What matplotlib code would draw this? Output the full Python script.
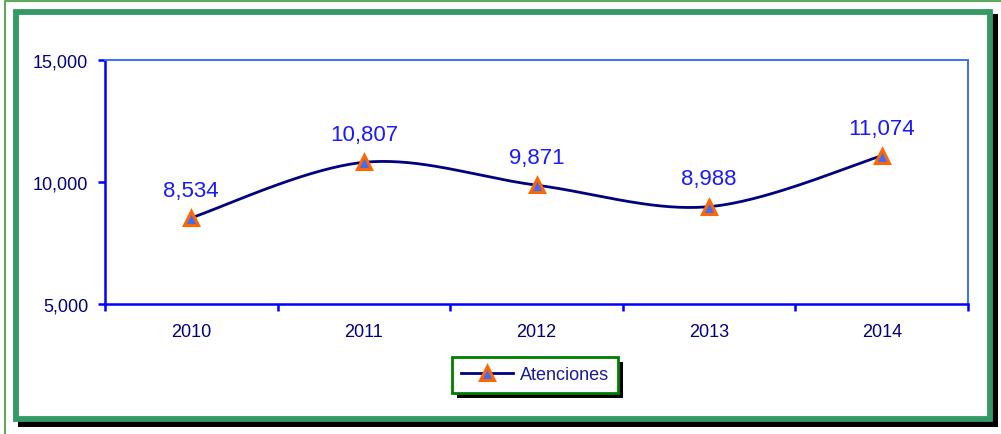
import numpy as np
import matplotlib.pyplot as plt
from matplotlib.patches import Rectangle
from matplotlib.ticker import FuncFormatter, FixedLocator

plt.rcParams['font.family'] = ['Liberation Sans', 'DejaVu Sans']

# chart data
years = ['2010', '2011', '2012', '2013', '2014']
atenciones = [8534, 10807, 9871, 8988, 11074]

W, H = 1001, 435
fig = plt.figure(figsize=(W / 100, H / 100), dpi=100)


def px_rect(x0, y0, x1, y1, **kw):
    # rectangle given in pixels measured from the top-left corner
    return Rectangle((x0, H - y1), x1 - x0, y1 - y0, transform=None, **kw)


# outer thin green line, shadow and thick green frame (behind the axes)
fig.patches.append(px_rect(5, 2, 1010, 445, fill=False, edgecolor='#3c9c3c',
                           linewidth=1.2, zorder=-3))
fig.patches.append(px_rect(18, 15, 998, 428, facecolor='black', edgecolor='none', zorder=-3))
fig.patches.append(px_rect(15.8, 12.8, 990.2, 420.2, facecolor='white',
                           edgecolor='#339966', linewidth=4.2, zorder=-2))

ax = fig.add_axes([105 / W, 1 - 305 / H, 863 / W, 244 / H])
ax.set_facecolor('none')
x = np.arange(len(years))
ax.set_xlim(-0.5, len(years) - 0.5)
ax.set_ylim(5000, 15000)

# Excel-style smoothed line (bezier through points, computed in display space)
fig.canvas.draw()
pts = ax.transData.transform(np.column_stack([x, atenciones]))
curve = []
n = len(pts)
for i in range(n - 1):
    p0 = pts[max(i - 1, 0)]
    p1 = pts[i]
    p2 = pts[i + 1]
    p3 = pts[min(i + 2, n - 1)]
    c1 = p1 + (p2 - p0) / 6
    c2 = p2 - (p3 - p1) / 6
    t = np.linspace(0, 1, 40)[:, None]
    seg = ((1 - t) ** 3) * p1 + 3 * ((1 - t) ** 2) * t * c1 + 3 * (1 - t) * t ** 2 * c2 + t ** 3 * p2
    curve.append(seg if i == 0 else seg[1:])
curve = ax.transData.inverted().transform(np.vstack(curve))

ax.plot(curve[:, 0], curve[:, 1], color='#000080', linewidth=2, zorder=3)
ax.plot(x, atenciones, linestyle='none', marker='^', markersize=10.5,
        markerfacecolor='#3d6dff', markeredgecolor='#ff6600', markeredgewidth=2.2, zorder=4)
# proxy for legend
leg_line, = ax.plot([], [], color='#000080', linewidth=2, marker='^', markersize=10.5,
                    markerfacecolor='#3d6dff', markeredgecolor='#ff6600',
                    markeredgewidth=2.2, label='Atenciones')

for xi, v in zip(x, atenciones):
    ax.annotate(f'{v:,}', (xi, v), xytext=(0, 16), textcoords='offset points',
                ha='center', va='baseline', fontsize=16, color='#1a1aff')

# axes styling
for side in ['top', 'right']:
    ax.spines[side].set_color('#3d6dff')
    ax.spines[side].set_linewidth(1.4)
for side in ['left', 'bottom']:
    ax.spines[side].set_color('#0000ff')
    ax.spines[side].set_linewidth(1.8)

ax.set_yticks([5000, 10000, 15000])
ax.yaxis.set_major_formatter(FuncFormatter(lambda v, p: f'{int(v):,}'))
ax.tick_params(axis='y', direction='out', length=5, width=1.8, color='#0000ff',
               labelsize=13, labelcolor='#000080', pad=7)

ax.set_xticks(x)
ax.set_xticklabels(years)
ax.xaxis.set_minor_locator(FixedLocator(np.arange(-0.5, len(years), 1.0)))
ax.tick_params(axis='x', which='major', length=0, labelsize=13, labelcolor='#000080', pad=13.5)
ax.tick_params(axis='x', which='minor', direction='out', length=5, width=1.8, color='#0000ff')

leg = fig.legend(handles=[leg_line], loc='center', bbox_to_anchor=(535 / W, 1 - 376 / H),
                 fontsize=13, frameon=True, fancybox=False, framealpha=1, handlelength=2.9,
                 handletextpad=0.35, borderpad=0.5, labelcolor='#1a1a99')
leg.get_frame().set_edgecolor('#008000')
leg.get_frame().set_facecolor('white')
leg.get_frame().set_linewidth(2)
leg.set_zorder(5)

# legend shadow
fig.canvas.draw()
bb = leg.get_window_extent()
fig.patches.append(Rectangle((bb.x0 + 5, bb.y0 - 5), bb.width, bb.height, transform=None,
                             facecolor='black', edgecolor='none', zorder=1))

fig.savefig('out.png', dpi=100)
